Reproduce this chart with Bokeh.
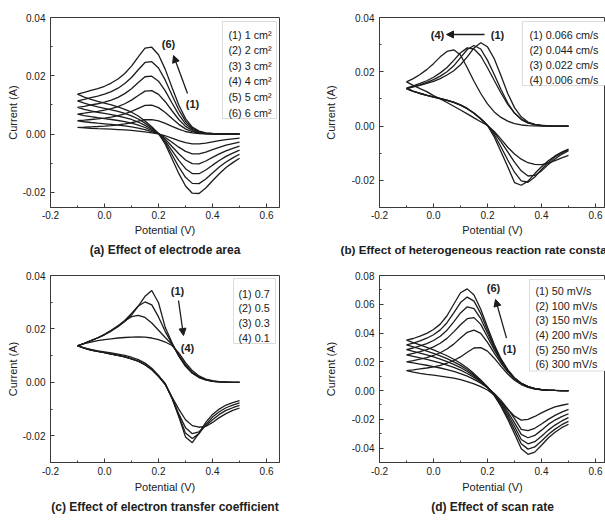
from bokeh.plotting import figure
from bokeh.layouts import row, column
from bokeh.models import Label, Arrow, NormalHead, BoxAnnotation, FixedTicker, PrintfTickFormatter, Title
from bokeh.embed import file_html
from bokeh.resources import INLINE

# ---------------------------------------------------------------- data
# Potential grid (V) shared by every voltammogram, forward and reverse sweep.
POTENTIAL = [-0.1, -0.075, -0.05, -0.025, 0.0, 0.025, 0.05, 0.075, 0.1, 0.125,
             0.15, 0.175, 0.2, 0.225, 0.25, 0.275, 0.3, 0.325, 0.35, 0.375,
             0.4, 0.425, 0.45, 0.475, 0.5]

# (a) electrode area
AREA_LABELS = ["(1) 1 cm\u00b2", "(2) 2 cm\u00b2", "(3) 3 cm\u00b2",
               "(4) 4 cm\u00b2", "(5) 5 cm\u00b2", "(6) 6 cm\u00b2"]
AREA_FWD = [
    [0.00228, 0.00238, 0.0025, 0.0026, 0.00273, 0.00292, 0.00315, 0.00347, 0.00388, 0.00442, 0.00492, 0.00497, 0.00453, 0.0037, 0.00267, 0.00167, 0.00088, 0.0004, 0.00017, 0.00007, 0.00003, 0.00002, 0.0, 0.0, 0.0],
    [0.00457, 0.00477, 0.005, 0.0052, 0.00547, 0.00583, 0.0063, 0.00693, 0.00777, 0.00883, 0.00983, 0.00993, 0.00907, 0.0074, 0.00533, 0.00333, 0.00177, 0.0008, 0.00033, 0.00013, 0.00007, 0.00003, 0.0, 0.0, 0.0],
    [0.00685, 0.00715, 0.0075, 0.0078, 0.0082, 0.00875, 0.00945, 0.0104, 0.01165, 0.01325, 0.01475, 0.0149, 0.0136, 0.0111, 0.008, 0.005, 0.00265, 0.0012, 0.0005, 0.0002, 0.0001, 0.00005, 0.0, 0.0, 0.0],
    [0.00913, 0.00953, 0.01, 0.0104, 0.01093, 0.01167, 0.0126, 0.01387, 0.01553, 0.01767, 0.01967, 0.01987, 0.01813, 0.0148, 0.01067, 0.00667, 0.00353, 0.0016, 0.00067, 0.00027, 0.00013, 0.00007, 0.0, 0.0, 0.0],
    [0.01142, 0.01192, 0.0125, 0.013, 0.01367, 0.01458, 0.01575, 0.01733, 0.01942, 0.02208, 0.02458, 0.02483, 0.02267, 0.0185, 0.01333, 0.00833, 0.00442, 0.002, 0.00083, 0.00033, 0.00017, 0.00008, 0.0, 0.0, 0.0],
    [0.0137, 0.0143, 0.015, 0.0156, 0.0164, 0.0175, 0.0189, 0.0208, 0.0233, 0.0265, 0.0295, 0.0298, 0.0272, 0.0222, 0.016, 0.01, 0.0053, 0.0024, 0.001, 0.0004, 0.0002, 0.0001, 0.0, 0.0, 0.0],
]
AREA_REV = [
    [0.00228, 0.00212, 0.00198, 0.00187, 0.00177, 0.00167, 0.00155, 0.00142, 0.00125, 0.00103, 0.00075, 0.00042, 0.00003, -0.00058, -0.00142, -0.00225, -0.00297, -0.00338, -0.0034, -0.00308, -0.00267, -0.00227, -0.00192, -0.00163, -0.00138],
    [0.00457, 0.00423, 0.00397, 0.00373, 0.00353, 0.00333, 0.0031, 0.00283, 0.0025, 0.00207, 0.0015, 0.00083, 0.00007, -0.00117, -0.00283, -0.0045, -0.00593, -0.00677, -0.0068, -0.00617, -0.00533, -0.00453, -0.00383, -0.00327, -0.00277],
    [0.00685, 0.00635, 0.00595, 0.0056, 0.0053, 0.005, 0.00465, 0.00425, 0.00375, 0.0031, 0.00225, 0.00125, 0.0001, -0.00175, -0.00425, -0.00675, -0.0089, -0.01015, -0.0102, -0.00925, -0.008, -0.0068, -0.00575, -0.0049, -0.00415],
    [0.00913, 0.00847, 0.00793, 0.00747, 0.00707, 0.00667, 0.0062, 0.00567, 0.005, 0.00413, 0.003, 0.00167, 0.00013, -0.00233, -0.00567, -0.009, -0.01187, -0.01353, -0.0136, -0.01233, -0.01067, -0.00907, -0.00767, -0.00653, -0.00553],
    [0.01142, 0.01058, 0.00992, 0.00933, 0.00883, 0.00833, 0.00775, 0.00708, 0.00625, 0.00517, 0.00375, 0.00208, 0.00017, -0.00292, -0.00708, -0.01125, -0.01483, -0.01692, -0.017, -0.01542, -0.01333, -0.01133, -0.00958, -0.00817, -0.00692],
    [0.0137, 0.0127, 0.0119, 0.0112, 0.0106, 0.01, 0.0093, 0.0085, 0.0075, 0.0062, 0.0045, 0.0025, 0.0002, -0.0035, -0.0085, -0.0135, -0.0178, -0.0203, -0.0204, -0.0185, -0.016, -0.0136, -0.0115, -0.0098, -0.0083],
]

# (b) heterogeneous rate constant
RATE_LABELS = ["(1) 0.066 cm/s", "(2) 0.044 cm/s", "(3) 0.022 cm/s", "(4) 0.006 cm/s"]
RATE_FWD = [
    [0.0138, 0.0144, 0.015, 0.0157, 0.0165, 0.0175, 0.0188, 0.0204, 0.0226, 0.0255, 0.0288, 0.0307, 0.0292, 0.0248, 0.0185, 0.012, 0.0068, 0.0034, 0.0015, 0.0006, 0.0002, 0.0001, 0.0, 0.0, 0.0],
    [0.0138, 0.0145, 0.0152, 0.0161, 0.0171, 0.0184, 0.02, 0.0222, 0.0252, 0.0282, 0.0297, 0.0284, 0.0242, 0.019, 0.0135, 0.0085, 0.0048, 0.0024, 0.0011, 0.0005, 0.0002, 0.0001, 0.0, 0.0, 0.0],
    [0.014, 0.0148, 0.0157, 0.0167, 0.018, 0.0196, 0.0216, 0.0242, 0.027, 0.0288, 0.0284, 0.0258, 0.0215, 0.0168, 0.0122, 0.008, 0.0048, 0.0026, 0.0013, 0.0006, 0.0003, 0.0001, 0.0, 0.0, 0.0],
    [0.0163, 0.0175, 0.019, 0.0208, 0.023, 0.0255, 0.0275, 0.0281, 0.0262, 0.0215, 0.0165, 0.012, 0.0082, 0.0052, 0.0032, 0.0018, 0.0009, 0.0004, 0.0002, 0.0001, 0.0, 0.0, 0.0, 0.0, 0.0],
]
RATE_REV = [
    [0.0138, 0.0128, 0.012, 0.0113, 0.0107, 0.0101, 0.0095, 0.0087, 0.0077, 0.0064, 0.0047, 0.0026, 0.0002, -0.004, -0.0095, -0.015, -0.0208, -0.0218, -0.0203, -0.0175, -0.015, -0.0128, -0.011, -0.0096, -0.0085],
    [0.0138, 0.0128, 0.012, 0.0113, 0.0107, 0.0101, 0.0095, 0.0087, 0.0077, 0.0064, 0.0047, 0.0027, 0.0003, -0.0032, -0.0077, -0.0125, -0.017, -0.0202, -0.0207, -0.0188, -0.016, -0.0134, -0.0114, -0.0099, -0.0088],
    [0.014, 0.0129, 0.0121, 0.0114, 0.0108, 0.0102, 0.0096, 0.0088, 0.0078, 0.0065, 0.0048, 0.0027, 0.0003, -0.0025, -0.0058, -0.0095, -0.0133, -0.0165, -0.0184, -0.0182, -0.0165, -0.0142, -0.0121, -0.0104, -0.0091],
    [0.0163, 0.015, 0.0138, 0.0127, 0.0112, 0.01, 0.0087, 0.0073, 0.0059, 0.0045, 0.003, 0.0016, 0.0002, -0.002, -0.0048, -0.0078, -0.0103, -0.0122, -0.0135, -0.0141, -0.0142, -0.0137, -0.0127, -0.0117, -0.0108],
]

# (c) electron transfer coefficient
ALPHA_LABELS = ["(1) 0.7", "(2) 0.5", "(3) 0.3", "(4) 0.1"]
ALPHA_FWD = [
    [0.0137, 0.0146, 0.0156, 0.0166, 0.0178, 0.0192, 0.0208, 0.0228, 0.0252, 0.0285, 0.0322, 0.0344, 0.0298, 0.0205, 0.0148, 0.0098, 0.006, 0.0034, 0.0018, 0.0009, 0.0004, 0.0002, 0.0001, 0.0, 0.0],
    [0.0137, 0.0146, 0.0156, 0.0167, 0.0179, 0.0194, 0.0211, 0.0232, 0.0258, 0.0286, 0.0301, 0.029, 0.0245, 0.019, 0.0145, 0.01, 0.0062, 0.0035, 0.0019, 0.0009, 0.0004, 0.0002, 0.0001, 0.0, 0.0],
    [0.0137, 0.0146, 0.0156, 0.0167, 0.018, 0.0195, 0.0212, 0.023, 0.0246, 0.0251, 0.0243, 0.0222, 0.0195, 0.0168, 0.0142, 0.0103, 0.0066, 0.0038, 0.0021, 0.001, 0.0005, 0.0002, 0.0001, 0.0, 0.0],
    [0.0137, 0.0145, 0.0151, 0.0156, 0.016, 0.0163, 0.0166, 0.0168, 0.0169, 0.017, 0.0169, 0.0166, 0.016, 0.0151, 0.0138, 0.011, 0.0074, 0.0044, 0.0024, 0.0012, 0.0006, 0.0003, 0.0001, 0.0, 0.0],
]
ALPHA_REV = [
    [0.0137, 0.0128, 0.0121, 0.0116, 0.0111, 0.0106, 0.0101, 0.0095, 0.0088, 0.0079, 0.0066, 0.0048, 0.0024, -0.0005, -0.006, -0.0128, -0.0205, -0.0226, -0.019, -0.015, -0.012, -0.01, -0.0085, -0.0076, -0.0068],
    [0.0137, 0.0128, 0.0121, 0.0116, 0.0111, 0.0106, 0.0101, 0.0095, 0.0088, 0.0079, 0.0066, 0.0048, 0.0024, -0.0005, -0.0058, -0.0125, -0.019, -0.021, -0.0192, -0.0158, -0.013, -0.011, -0.0095, -0.0085, -0.0077],
    [0.0137, 0.0128, 0.0121, 0.0116, 0.0111, 0.0106, 0.0101, 0.0095, 0.0088, 0.0079, 0.0066, 0.0048, 0.0022, -0.0008, -0.0058, -0.0118, -0.017, -0.0192, -0.0185, -0.0162, -0.014, -0.012, -0.0105, -0.0095, -0.0086],
    [0.0137, 0.0129, 0.0123, 0.0118, 0.0114, 0.011, 0.0106, 0.0101, 0.0094, 0.0085, 0.0072, 0.0053, 0.0026, -0.0008, -0.0055, -0.01, -0.014, -0.0162, -0.0168, -0.0165, -0.015, -0.0132, -0.0117, -0.0105, -0.0096],
]

# (d) scan rate
SCAN_LABELS = ["(1) 50 mV/s", "(2) 100 mV/s", "(3) 150 mV/s",
               "(4) 200 mV/s", "(5) 250 mV/s", "(6) 300 mV/s"]
SCAN_FWD = [
    [0.0138, 0.0144, 0.0151, 0.0157, 0.0165, 0.0176, 0.019, 0.0209, 0.0234, 0.0266, 0.0296, 0.0299, 0.0274, 0.0225, 0.0168, 0.0115, 0.0072, 0.0042, 0.0022, 0.0011, 0.0005, 0.0002, 0.0001, 0.0, 0.0],
    [0.02, 0.0208, 0.0218, 0.0229, 0.0244, 0.0263, 0.0289, 0.0323, 0.0365, 0.0405, 0.042, 0.0398, 0.0335, 0.026, 0.019, 0.013, 0.0082, 0.0048, 0.0026, 0.0013, 0.0006, 0.0003, 0.0001, 0.0, 0.0],
    [0.0248, 0.0258, 0.027, 0.0285, 0.0304, 0.0329, 0.0363, 0.0408, 0.0458, 0.05, 0.0507, 0.046, 0.0372, 0.0283, 0.0203, 0.0137, 0.0085, 0.0049, 0.0027, 0.0013, 0.0006, 0.0003, 0.0001, 0.0, 0.0],
    [0.0285, 0.0296, 0.031, 0.0327, 0.0348, 0.0378, 0.042, 0.0478, 0.054, 0.0582, 0.057, 0.05, 0.0398, 0.0298, 0.021, 0.014, 0.0086, 0.005, 0.0027, 0.0013, 0.0006, 0.0003, 0.0001, 0.0, 0.0],
    [0.0318, 0.033, 0.0345, 0.0364, 0.0388, 0.0422, 0.0472, 0.054, 0.0612, 0.065, 0.0622, 0.0535, 0.042, 0.031, 0.0215, 0.0142, 0.0087, 0.005, 0.0027, 0.0013, 0.0006, 0.0003, 0.0001, 0.0, 0.0],
    [0.035, 0.0362, 0.0378, 0.0398, 0.0425, 0.0462, 0.052, 0.06, 0.068, 0.0707, 0.0665, 0.0565, 0.044, 0.032, 0.022, 0.0145, 0.0088, 0.005, 0.0027, 0.0013, 0.0006, 0.0003, 0.0001, 0.0, 0.0],
]
SCAN_REV = [
    [0.0138, 0.0128, 0.012, 0.0113, 0.0107, 0.0101, 0.0094, 0.0086, 0.0076, 0.0063, 0.0047, 0.0027, 0.0004, -0.003, -0.008, -0.013, -0.0178, -0.0205, -0.02, -0.018, -0.0155, -0.0132, -0.0114, -0.0102, -0.0092],
    [0.02, 0.0192, 0.0184, 0.0176, 0.0167, 0.0157, 0.0146, 0.0133, 0.0118, 0.01, 0.0078, 0.0052, 0.002, -0.002, -0.0068, -0.0127, -0.0195, -0.027, -0.0278, -0.0262, -0.0232, -0.02, -0.0172, -0.015, -0.0131],
    [0.0248, 0.0238, 0.0228, 0.0217, 0.0205, 0.0192, 0.0177, 0.0161, 0.0142, 0.0119, 0.0092, 0.006, 0.0022, -0.0024, -0.008, -0.0148, -0.0225, -0.0305, -0.0328, -0.0312, -0.0275, -0.0235, -0.0205, -0.0181, -0.0161],
    [0.0285, 0.0273, 0.0261, 0.0248, 0.0234, 0.0218, 0.0201, 0.0182, 0.016, 0.0133, 0.0102, 0.0066, 0.0024, -0.0027, -0.009, -0.0165, -0.025, -0.034, -0.037, -0.0355, -0.0318, -0.0275, -0.024, -0.0211, -0.0188],
    [0.0318, 0.0304, 0.029, 0.0275, 0.0259, 0.0241, 0.0222, 0.02, 0.0175, 0.0145, 0.011, 0.007, 0.0025, -0.003, -0.01, -0.0183, -0.0275, -0.037, -0.0407, -0.0392, -0.035, -0.0305, -0.0268, -0.0237, -0.0214],
    [0.035, 0.0334, 0.0318, 0.0301, 0.0283, 0.0263, 0.0242, 0.0218, 0.019, 0.0157, 0.0118, 0.0074, 0.0025, -0.0035, -0.011, -0.02, -0.03, -0.0405, -0.0443, -0.0428, -0.038, -0.033, -0.029, -0.0258, -0.0234],
]

X_MAJOR = [-0.2, 0.0, 0.2, 0.4, 0.6]
X_MINOR = [-0.1, 0.1, 0.3, 0.5]

# ---------------------------------------------------------------- style
FONT = "Liberation Sans"
INK = "#1c1c1c"
FRAME = "#3a3a3a"
TEXT = "#202020"


def px_to_data(g, px, py):
    """Convert a pixel position inside a panel's frame to data coordinates."""
    x0, x1 = g["x"]
    y0, y1 = g["y"]
    x = x0 + (px - g["left"]) / g["w"] * (x1 - x0)
    y = y1 - (py - g["top"]) / g["h"] * (y1 - y0)
    return x, y


def label(p, g, px, py, text, size="10.8px", bold=False, align="center"):
    x, y = px_to_data(g, px, py)
    p.add_layout(Label(x=x, y=y, text=text, text_font=FONT, text_font_size=size,
                       text_font_style="bold" if bold else "normal",
                       text_color=TEXT, text_align=align, text_baseline="middle"))


def panel(g, fwd, rev, y_major, y_minor, legend_labels, legend_box, legend_x,
          legend_rows, title, title_align, title_offset, title_size):
    width, height = g["width"], g["height"]
    p = figure(width=width, height=height, x_range=g["x"], y_range=g["y"],
               output_backend="svg", toolbar_location=None, title_location=None,
               min_border_left=g["left"], min_border_top=g["top"],
               min_border_right=width - g["left"] - g["w"],
               min_border_bottom=height - g["top"] - g["h"])
    p.grid.visible = False
    p.outline_line_color = FRAME
    p.outline_line_width = 1
    p.background_fill_color = "white"
    p.border_fill_color = "white"

    p.xaxis.ticker = FixedTicker(ticks=X_MAJOR, minor_ticks=X_MINOR)
    p.yaxis.ticker = FixedTicker(ticks=y_major, minor_ticks=y_minor)
    p.xaxis.formatter = PrintfTickFormatter(format="%.1f")
    p.yaxis.formatter = PrintfTickFormatter(format="%.2f")
    for ax in (p.xaxis, p.yaxis):
        ax.axis_line_color = FRAME
        ax.major_tick_line_color = FRAME
        ax.minor_tick_line_color = FRAME
        ax.major_tick_in = 4
        ax.major_tick_out = 0
        ax.minor_tick_in = 2
        ax.minor_tick_out = 0
        ax.major_label_text_font = FONT
        ax.major_label_text_font_size = "10px"
        ax.major_label_text_color = TEXT
        ax.axis_label_text_font = FONT
        ax.axis_label_text_font_size = "11px"
        ax.axis_label_text_font_style = "normal"
        ax.axis_label_text_color = TEXT

    p.xaxis.axis_label = "Potential (V)"
    p.xaxis.major_label_standoff = g["xstand"]
    p.xaxis.axis_label_standoff = g["xlabstand"]
    p.yaxis.axis_label = "Current (A)"
    p.yaxis.major_label_standoff = 5
    p.yaxis.axis_label_standoff = g["ylabstand"]

    p.add_layout(Title(text=title, align=title_align, offset=title_offset,
                       standoff=g["titlestand"], text_font=FONT, text_font_size=title_size,
                       text_font_style="bold", text_color=TEXT), "below")

    # each voltammogram: forward sweep from +0.5 V down to -0.1 V, then back up
    for f, r in zip(fwd, rev):
        xs = POTENTIAL[::-1] + POTENTIAL[1:]
        ys = f[::-1] + r[1:]
        p.line(xs, ys, line_color=INK, line_width=1.3)

    # text-only legend in a light box
    bx0, by0 = px_to_data(g, legend_box[0], legend_box[1])
    bx1, by1 = px_to_data(g, legend_box[2], legend_box[3])
    p.add_layout(BoxAnnotation(left=bx0, right=bx1, top=by0, bottom=by1,
                               fill_color="white", fill_alpha=1.0,
                               line_color="#8c8c8c", line_width=1))
    for text, ry in zip(legend_labels, legend_rows):
        label(p, g, legend_x, ry, text, size="10.8px", align="left")
    return p


def arrow(p, g, start, end):
    x0, y0 = px_to_data(g, *start)
    x1, y1 = px_to_data(g, *end)
    p.add_layout(Arrow(x_start=x0, y_start=y0, x_end=x1, y_end=y1,
                       line_color=INK, line_width=1.3,
                       end=NormalHead(size=7, fill_color=INK, line_color=INK)))


def rows(first, step, n):
    return [first + i * step for i in range(n)]


GA = dict(width=300, height=260, left=50, top=17, w=229, h=190, x=(-0.2, 0.648), y=(-0.0252, 0.04),
          xstand=3, xlabstand=2, ylabstand=1, titlestand=4)
GB = dict(width=305, height=260, left=79, top=17, w=226, h=190, x=(-0.2, 0.637), y=(-0.03, 0.04),
          xstand=3, xlabstand=2, ylabstand=12, titlestand=4)
GC = dict(width=300, height=262, left=50, top=15, w=229, h=187, x=(-0.2, 0.648), y=(-0.03, 0.04),
          xstand=4, xlabstand=3, ylabstand=1, titlestand=4)
GD = dict(width=305, height=262, left=79, top=14, w=226, h=188, x=(-0.2, 0.637), y=(-0.05, 0.08),
          xstand=4, xlabstand=3, ylabstand=12, titlestand=4)

pa = panel(GA, AREA_FWD, AREA_REV, [-0.02, 0.0, 0.02, 0.04], [-0.01, 0.01, 0.03],
           AREA_LABELS, (222, 21, 276, 118), 228, rows(34, 15.6, 6),
           "(a) Effect of electrode area", "center", 0, "12px")
label(pa, GA, 168, 43, "(6)", size="11px", bold=True)
label(pa, GA, 192, 103, "(1)", size="11px", bold=True)
arrow(pa, GA, (187, 93), (173, 55))

pb = panel(GB, RATE_FWD, RATE_REV, [-0.02, 0.0, 0.02, 0.04], [-0.03, -0.01, 0.01, 0.03],
           RATE_LABELS, (222, 21, 330, 85), 229, rows(34, 15, 4),
           "(b) Effect of heterogeneous reaction rate constant", "left", -39, "11.7px")
label(pb, GB, 137, 34, "(4)", size="11px", bold=True)
label(pb, GB, 197, 34, "(1)", size="11px", bold=True)
arrow(pb, GB, (184, 34), (146, 34))

pc = panel(GC, ALPHA_FWD, ALPHA_REV, [-0.02, 0.0, 0.02, 0.04], [-0.03, -0.01, 0.01, 0.03],
           ALPHA_LABELS, (233, 18, 275, 83), 238, rows(33, 14.7, 4),
           "(c) Effect of electron transfer coefficient", "center", 0, "12px")
label(pc, GC, 177, 30, "(1)", size="11px", bold=True)
label(pc, GC, 187, 87, "(4)", size="11px", bold=True)
arrow(pc, GC, (178, 40), (183, 75))

pd = panel(GD, SCAN_FWD, SCAN_REV, [-0.04, -0.02, 0.0, 0.02, 0.04, 0.06, 0.08],
           [-0.05, -0.03, -0.01, 0.01, 0.03, 0.05, 0.07],
           SCAN_LABELS, (229, 18, 330, 110), 235, rows(30, 14.6, 6),
           "(d) Effect of scan rate", "center", 0, "12px")
label(pd, GD, 193, 27, "(6)", size="11px", bold=True)
label(pd, GD, 209, 88, "(1)", size="11px", bold=True)
arrow(pd, GD, (206, 77), (195, 38))

layout = column(row(pa, pb), row(pc, pd))
open("out.html", "w").write(file_html(layout, INLINE))
